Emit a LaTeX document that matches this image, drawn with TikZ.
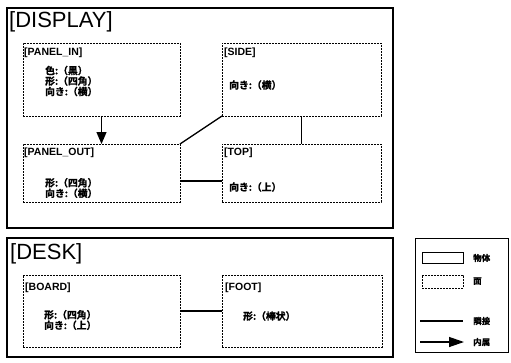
\documentclass[tikz,border=0pt]{standalone}
\usepackage{fontspec}
\setmainfont{Liberation Sans}
\newfontfamily\jp{Noto Sans CJK JP Bold}[FakeBold=1.2]
\usetikzlibrary{arrows.meta}
\tikzset{
  obj/.style={draw, line width=1.6pt, inner sep=0, outer sep=0, anchor=north west},
  face/.style={draw, line width=0.9pt, dash pattern=on 2pt off 1pt, inner sep=0, outer sep=0, anchor=north west},
  ttl/.style={font=\fontsize{22}{24}\selectfont, anchor=west, inner sep=0},
  lbl/.style={font=\bfseries\fontsize{10.5}{12}\selectfont, anchor=west, inner sep=0},
  row/.style={font=\jp\fontsize{9.8}{10.5}\selectfont, anchor=west, inner sep=0, align=left},
  leg/.style={font=\jp\fontsize{8.5}{10}\selectfont, anchor=west, inner sep=0},
  link/.style={line width=1.3pt},
  bigtip/.style={-{Triangle[length=12pt,width=10pt]}}
}
\begin{document}
\begin{tikzpicture}[x=1pt,y=-1pt]
\useasboundingbox[fill=white] (0,0) rectangle (511,362);
% DISPLAY
\node[obj, minimum width=386pt, minimum height=220pt] (display) at (7,8) {};
\node[ttl] (displayt) at (9,22) {[DISPLAY]};
\node[face, minimum width=157pt, minimum height=73pt] (pin) at (23,43) {};
\node[lbl] (pint) at (24,53) {[PANEL\_IN]};
\node[row] (pinr) at (45,81) {色:（黒）\\形:（四角）\\向き:（横）};
\node[face, minimum width=159pt, minimum height=73pt] (side) at (222,43) {};
\node[lbl] (sidet) at (224,53) {[SIDE]};
\node[row] (sider) at (229,85) {向き:（横）};
\node[face, minimum width=157pt, minimum height=58pt] (pout) at (23,144) {};
\node[lbl] (poutt) at (24,153) {[PANEL\_OUT]};
\node[row] (poutr) at (45,188) {形:（四角）\\向き:（横）};
\node[face, minimum width=159pt, minimum height=58pt] (top) at (222,144) {};
\node[lbl] (topt) at (224,153) {[TOP]};
\node[row] (topr) at (229,187) {向き:（上）};
\draw[link, bigtip] (pin.south) -- (pout.north);
\draw[link] (pout.north east) -- (side.south west);
\draw[link] ([yshift=-8pt]pout.east) -- ([yshift=-8pt]top.west);
\draw[link] (side.south) -- (top.north);
% DESK
\node[obj, minimum width=386pt, minimum height=119pt] (desk) at (7,238) {};
\node[ttl] (deskt) at (10,254) {[DESK]};
\node[face, minimum width=157pt, minimum height=72pt] (board) at (23,275) {};
\node[lbl] (boardt) at (25,288) {[BOARD]};
\node[row] (boardr) at (44,320) {形:（四角）\\向き:（上）};
\node[face, minimum width=160pt, minimum height=72pt] (foot) at (222,275) {};
\node[lbl] (foott) at (225,288) {[FOOT]};
\node[row] (footr) at (243,316) {形:（棒状）};
\draw[link] (board.east) -- (foot.west);
% legend
\node[draw, line width=1.2pt, inner sep=0, anchor=north west, minimum width=93pt, minimum height=114pt] (legend) at (415,238) {};
\node[draw, line width=1.4pt, inner sep=0, anchor=north west, minimum width=41pt, minimum height=11pt] (legobj) at (422,252) {};
\node[leg] (legobjt) at (473,258) {物体};
\node[face, minimum width=41pt, minimum height=13pt] (legface) at (422,275) {};
\node[leg] (legfacet) at (473,281) {面};
\coordinate (l1a) at (420,321);
\coordinate (l1b) at (463,321);
\draw[link] (l1a) -- (l1b);
\node[leg] (legadj) at (473,321) {隣接};
\coordinate (l2a) at (420,342);
\coordinate (l2b) at (464,342);
\draw[link, -{Triangle[length=15pt,width=10pt]}] (l2a) -- (l2b);
\node[leg] (leginc) at (473,342) {内属};
\end{tikzpicture}
\end{document}
